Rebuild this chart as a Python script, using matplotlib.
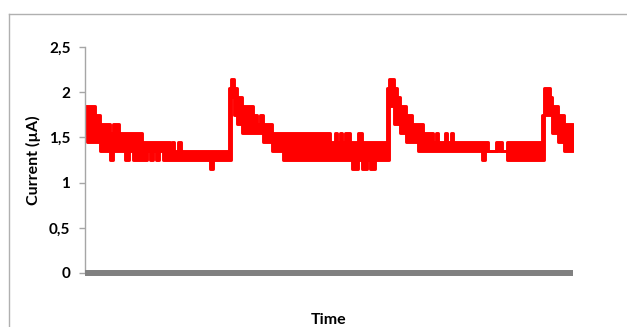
import matplotlib.pyplot as plt
from matplotlib.lines import Line2D

# time (arbitrary units, start of each step), lower and upper level of the noisy current
t = [0, 2, 10, 15, 25, 28, 34, 40, 44, 48, 57, 62, 65, 68, 71, 74, 78,
     82, 85, 87, 89, 93, 96, 98, 125, 128, 144, 146, 149, 152, 157, 168,
     172, 175, 178, 187, 198, 245, 250, 252, 255, 257, 260, 265, 267,
     273, 277, 282, 285, 290, 302, 304, 309, 312, 315, 321, 327, 333,
     338, 348, 351, 353, 360, 362, 366, 368, 397, 400, 403, 411, 417,
     422, 457, 459, 465, 467, 473, 479, 488]
low = [1.55, 1.45, 1.45, 1.35, 1.25, 1.35, 1.35, 1.25, 1.35, 1.25, 1.25,
       1.35, 1.25, 1.35, 1.25, 1.35, 1.25, 1.25, 1.25, 1.25, 1.25, 1.25,
       1.25, 1.25, 1.15, 1.25, 1.25, 1.95, 1.75, 1.65, 1.55, 1.55, 1.55,
       1.55, 1.45, 1.35, 1.25, 1.25, 1.25, 1.25, 1.25, 1.25, 1.25, 1.25,
       1.15, 1.25, 1.15, 1.25, 1.15, 1.25, 1.25, 1.85, 1.65, 1.65, 1.55,
       1.45, 1.45, 1.35, 1.35, 1.35, 1.35, 1.35, 1.35, 1.35, 1.35, 1.35,
       1.25, 1.35, 1.35, 1.35, 1.35, 1.25, 1.25, 1.75, 1.75, 1.55, 1.45,
       1.35, 1.35]
high = [1.85, 1.85, 1.75, 1.65, 1.55, 1.65, 1.55, 1.55, 1.55, 1.55, 1.45,
        1.45, 1.45, 1.45, 1.45, 1.45, 1.45, 1.45, 1.35, 1.45, 1.35, 1.45,
        1.35, 1.35, 1.35, 1.35, 2.05, 2.15, 2.05, 1.95, 1.85, 1.75, 1.65,
        1.75, 1.65, 1.55, 1.55, 1.45, 1.55, 1.45, 1.55, 1.45, 1.55, 1.45,
        1.45, 1.55, 1.45, 1.45, 1.45, 1.45, 2.05, 2.15, 2.05, 1.95, 1.85,
        1.75, 1.65, 1.65, 1.55, 1.45, 1.55, 1.45, 1.55, 1.45, 1.55, 1.45,
        1.45, 1.45, 1.35, 1.45, 1.35, 1.45, 1.75, 2.05, 1.95, 1.85, 1.75,
        1.65, 1.65]

yticks = [0, 0.5, 1, 1.5, 2, 2.5]
ytick_labels = ['0', '0,5', '1', '1,5', '2', '2,5']

fig = plt.figure(figsize=(6.27, 3.27), dpi=100)
ax = fig.add_axes([85/627, 1 - 273/327, 488/627, 226/327])

ax.fill_between(t, low, high, step='post', color='#ff0000',
                edgecolor='#ff0000', linewidth=2.1)

ax.set_xlim(0, 488)
ax.set_ylim(0, 2.5)
ax.set_yticks(yticks)
ax.set_yticklabels(ytick_labels, fontfamily='Lato', fontweight='bold', fontsize=11)
ax.set_xticks([])
ax.tick_params(axis='y', length=4, width=1, color='#a6a6a6', pad=6.5)

for s in ['top', 'right']:
    ax.spines[s].set_visible(False)
ax.spines['left'].set_color('#a6a6a6')
ax.spines['left'].set_linewidth(1)
ax.spines['bottom'].set_color('#808080')
ax.spines['bottom'].set_linewidth(4.3)
ax.spines['bottom'].set_capstyle('butt')

fig.text(33/627, 1 - 160/327, 'Current (µA)', rotation=90, ha='center', va='center',
         fontfamily='Lato', fontweight='bold', fontsize=11.5)
fig.text(329/627, 1 - 320/327, 'Time', ha='center', va='center',
         fontfamily='Lato', fontweight='bold', fontsize=11.5)

# outer chart frame
fig.add_artist(Line2D([9/627, 1], [1 - 14/327] * 2, color='#b0b0b0', lw=1))
fig.add_artist(Line2D([9/627] * 2, [0, 1 - 14/327], color='#b0b0b0', lw=1))

fig.savefig('out.png', dpi=100)
